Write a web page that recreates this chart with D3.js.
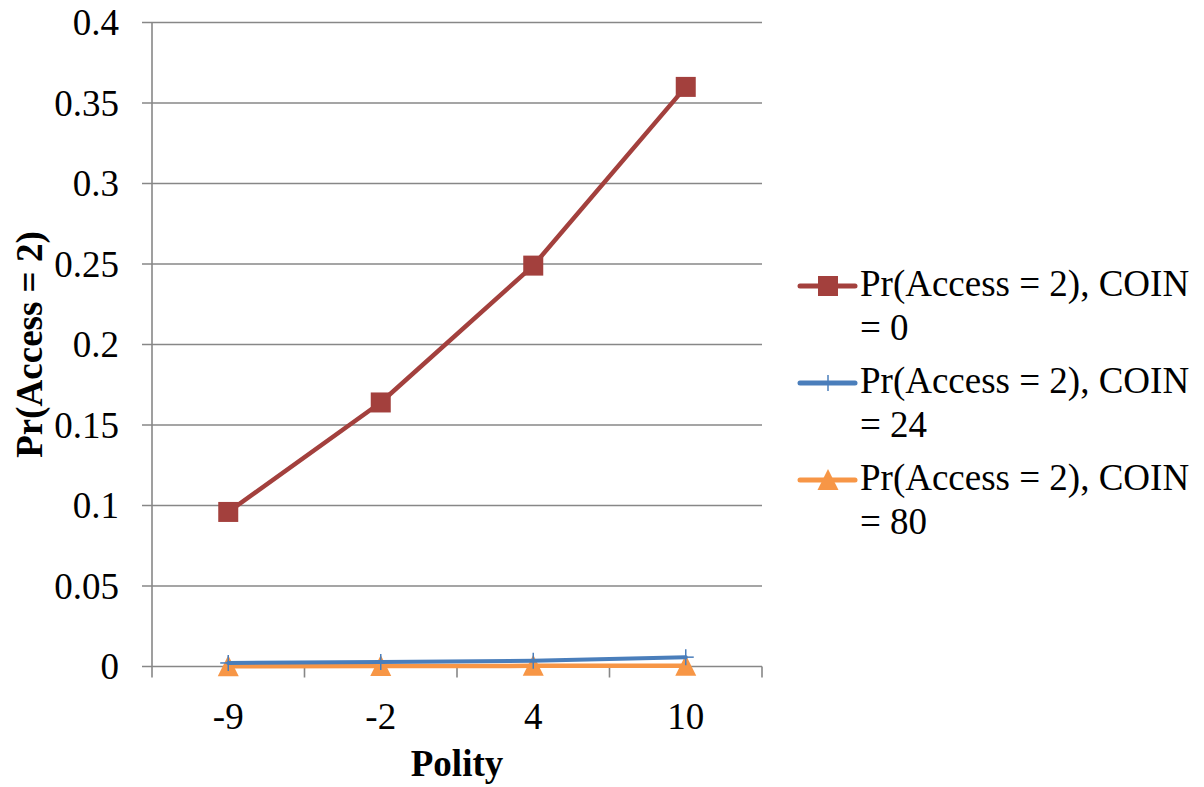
<!DOCTYPE html>
<html>
<head>
<meta charset="utf-8">
<script src="https://cdn.jsdelivr.net/npm/d3@7"></script>
<style>
  html, body { margin: 0; padding: 0; background: #fff; }
  svg { display: block; }
  svg text { font-family: "Liberation Serif", "Tinos", "Times New Roman", "Times", "DejaVu Serif", serif; }
</style>
</head>
<body>
<svg id="chart" width="1204" height="787"></svg>
<script>
// Polity categories on the x axis
const categories = ["-9", "-2", "4", "10"];

// Predicted probabilities for each COIN level
const coin0  = [0.096, 0.164, 0.249, 0.360];
const coin24 = [0.0022, 0.0028, 0.0036, 0.0058];
const coin80 = [0.0002, 0.0003, 0.0004, 0.0005];

const seriesNames = [
  ["Pr(Access = 2), COIN", "= 0"],
  ["Pr(Access = 2), COIN", "= 24"],
  ["Pr(Access = 2), COIN", "= 80"]
];

const yTickValues = [0, 0.05, 0.1, 0.15, 0.2, 0.25, 0.3, 0.35, 0.4];

const series = [
  { name: seriesNames[0], values: coin0,  color: "#A3403D", marker: "square", width: 4.5 },
  { name: seriesNames[1], values: coin24, color: "#4A7EBB", marker: "plus",   width: 4 },
  { name: seriesNames[2], values: coin80, color: "#F79646", marker: "triangle", width: 4.5 }
];

const FONT = "'Liberation Serif', Tinos, 'Times New Roman', Times, 'DejaVu Serif', serif";
const svg = d3.select("#chart");
const plot = { left: 152, right: 762, top: 22.5, bottom: 666.5 };
const gridColor = "#878787";

const x = d3.scaleBand().domain(categories).range([plot.left, plot.right]).paddingInner(0).paddingOuter(0);
const cx = d => x(d) + x.bandwidth() / 2;
const y = d3.scaleLinear().domain([0, 0.4]).range([plot.bottom, plot.top]);

// Horizontal gridlines, extended to the left as tick marks
svg.append("g").selectAll("line")
  .data(yTickValues)
  .join("line")
  .attr("x1", plot.left - 10).attr("x2", plot.right)
  .attr("y1", d => y(d)).attr("y2", d => y(d))
  .attr("stroke", gridColor).attr("stroke-width", 1.6);

// Vertical axis line
svg.append("line")
  .attr("x1", plot.left).attr("x2", plot.left)
  .attr("y1", y(0.4)).attr("y2", y(0))
  .attr("stroke", gridColor).attr("stroke-width", 1.6);

// Category boundary ticks on the x axis
const boundaries = categories.map(c => x(c)).concat([plot.right]);
svg.append("g").selectAll("line")
  .data(boundaries)
  .join("line")
  .attr("x1", d => d).attr("x2", d => d)
  .attr("y1", y(0)).attr("y2", y(0) + 11)
  .attr("stroke", gridColor).attr("stroke-width", 1.6);

// Y tick labels
const fmt = d3.format("");
svg.append("g").selectAll("text")
  .data(yTickValues)
  .join("text")
  .attr("x", 119)
  .attr("y", d => y(d))
  .attr("dy", "0.34em")
  .attr("text-anchor", "end")
  .attr("font-family", FONT)
  .attr("font-size", 37)
  .attr("fill", "#000")
  .text(d => fmt(+d.toFixed(2)));

// X tick labels
svg.append("g").selectAll("text")
  .data(categories)
  .join("text")
  .attr("x", d => cx(d))
  .attr("y", 729)
  .attr("text-anchor", "middle")
  .attr("font-family", FONT)
  .attr("font-size", 37)
  .attr("fill", "#000")
  .text(d => d);

// Axis titles
svg.append("text")
  .attr("x", 457).attr("y", 776)
  .attr("text-anchor", "middle")
  .attr("font-family", FONT)
  .attr("font-size", 37).attr("font-weight", "bold")
  .text("Polity");

svg.append("text")
  .attr("transform", `translate(42, ${(plot.top + plot.bottom) / 2}) rotate(-90)`)
  .attr("text-anchor", "middle")
  .attr("font-family", FONT)
  .attr("font-size", 37).attr("font-weight", "bold")
  .text("Pr(Access = 2)");

// Marker drawing helper
function drawMarker(g, type, color) {
  if (type === "square") {
    g.append("rect").attr("x", -10).attr("y", -10).attr("width", 20).attr("height", 20)
      .attr("fill", color);
  } else if (type === "plus") {
    g.append("line").attr("x1", -8).attr("x2", 8).attr("y1", 0).attr("y2", 0)
      .attr("stroke", color).attr("stroke-width", 1.5);
    g.append("line").attr("x1", 0).attr("x2", 0).attr("y1", -8).attr("y2", 8)
      .attr("stroke", color).attr("stroke-width", 1.5);
  } else if (type === "triangle") {
    g.append("path").attr("d", "M0,-11L10.5,10L-10.5,10Z").attr("fill", color);
  }
}

const line = d3.line().x((d, i) => cx(categories[i])).y(d => y(d));

// Series lines and markers (drawn back to front so the first series sits on top)
series.slice().reverse().forEach(s => {
  const g = svg.append("g");
  g.append("path")
    .datum(s.values)
    .attr("d", line)
    .attr("fill", "none")
    .attr("stroke", s.color)
    .attr("stroke-width", s.width)
    .attr("stroke-linejoin", "round")
    .attr("stroke-linecap", "round");
  s.values.forEach((v, i) => {
    const m = g.append("g").attr("transform", `translate(${cx(categories[i])},${y(v)})`);
    drawMarker(m, s.marker, s.color);
  });
});

// Legend
const legendRows = [296, 393, 490];
series.forEach((s, i) => {
  const base = legendRows[i];
  const my = base - 10;
  const g = svg.append("g");
  g.append("line")
    .attr("x1", 800).attr("x2", 855).attr("y1", my).attr("y2", my)
    .attr("stroke", s.color).attr("stroke-width", 5).attr("stroke-linecap", "round");
  const m = g.append("g").attr("transform", `translate(828,${my})`);
  drawMarker(m, s.marker, s.color);
  const t = g.append("text").attr("x", 860).attr("y", base)
    .attr("font-family", FONT).attr("font-size", 37).attr("fill", "#000");
  t.append("tspan").attr("x", 860).text(s.name[0]);
  t.append("tspan").attr("x", 860).attr("dy", 44).text(s.name[1]);
});
</script>
</body>
</html>
